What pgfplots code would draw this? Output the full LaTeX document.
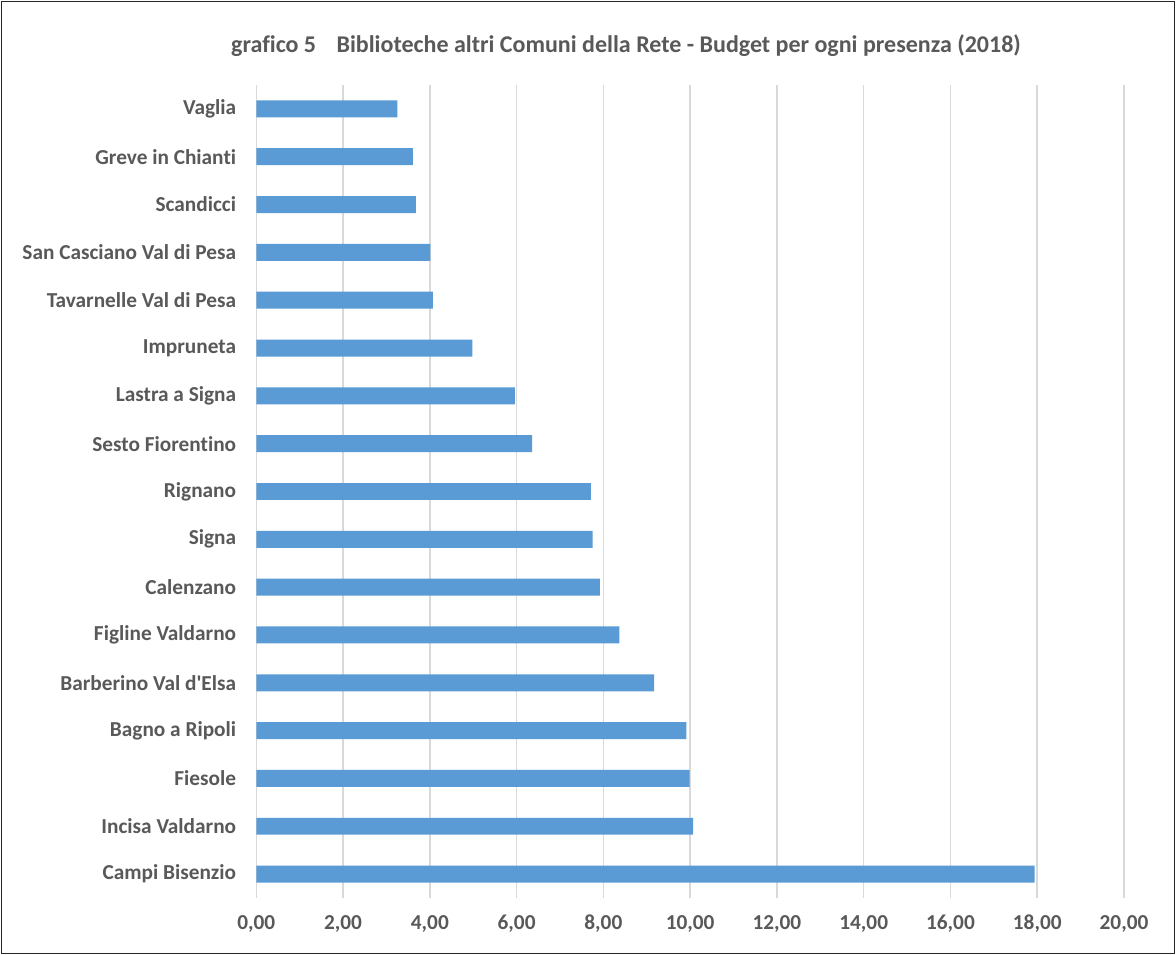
\documentclass[border=0pt]{standalone}
\usepackage{pgfplots}
\pgfplotsset{compat=1.18}
\usepackage{fontspec}
\setmainfont{Carlito}[Ligatures={NoCommon}]
\definecolor{barblue}{HTML}{5B9BD5}
\definecolor{txtgray}{HTML}{595959}
\definecolor{gridgray}{HTML}{D9D9D9}
\begin{document}
\begin{tikzpicture}[x=1bp,y=1bp]
\useasboundingbox (0,0) rectangle (1176,955);
\fill[white] (0,0) rectangle (1176,955);
\draw[line width=1.6bp, black!85] (1.5,1.5) rectangle (1174.5,953.5);
\node[font=\fontsize{24bp}{27bp}\selectfont\bfseries, text=txtgray, inner sep=0pt] at (626,909) {grafico 5\hspace{0.85em}Biblioteche altri Comuni della Rete - Budget per ogni presenza (2018)};
\begin{axis}[
  at={(256.3bp,57bp)}, anchor=south west,
  scale only axis, width=867.7bp, height=813bp,
  xmin=0, xmax=20, ymin=-0.5, ymax=16.5,
  xtick={0,2,...,20},
  xticklabels={{0,00},{2,00},{4,00},{6,00},{8,00},{10,00},{12,00},{14,00},{16,00},{18,00},{20,00}},
  ytick={0,...,16},
  yticklabels={Campi Bisenzio,Incisa Valdarno,Fiesole,Bagno a Ripoli,Barberino Val d\textquotesingle Elsa,Figline Valdarno,Calenzano,Signa,Rignano,Sesto Fiorentino,Lastra a Signa,Impruneta,Tavarnelle Val di Pesa,San Casciano Val di Pesa,Scandicci,Greve in Chianti,Vaglia},
  axis line style={draw=none},
  major tick length=0pt,
  xmajorgrids, grid style={gridgray, line width=1.5bp},
  /pgf/number format/assume math mode=true,
  tick label style={font=\fontsize{21.3bp}{25bp}\selectfont\bfseries, text=txtgray, inner sep=0pt},
  yticklabel style={xshift=-20bp},
  xticklabel style={yshift=-17bp},
  xbar, bar width=0.355,
]
\addplot[fill=barblue, draw=none] coordinates {
(17.94,0) (10.07,1) (9.99,2) (9.91,3) (9.17,4) (8.37,5) (7.92,6) (7.75,7) (7.71,8) (6.36,9) (5.96,10) (4.98,11) (4.07,12) (4.01,13) (3.68,14) (3.61,15) (3.25,16)
};
\end{axis}
\end{tikzpicture}
\end{document}
